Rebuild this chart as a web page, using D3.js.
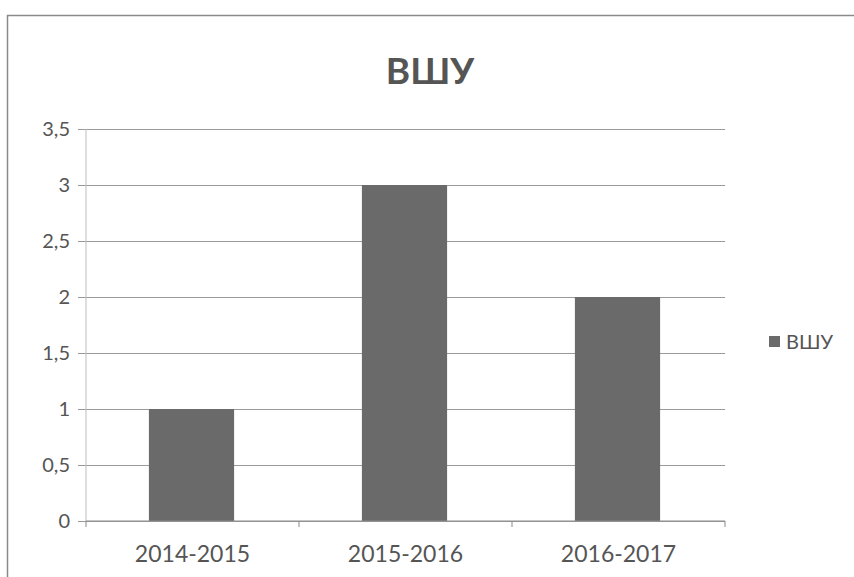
<!DOCTYPE html>
<html>
<head>
<meta charset="utf-8">
<script src="https://cdn.jsdelivr.net/npm/d3@7"></script>
<style>
  body { margin: 0; background: #fff; }
  text { font-family: Lato, "Open Sans", sans-serif; fill: #555; }
</style>
</head>
<body>
<div id="chart"></div>
<script>
// Bar chart "ВШУ"

const categories = ["2014-2015", "2015-2016", "2016-2017"],
    values = [1, 3, 2],
    yTicks = [0, 0.5, 1, 1.5, 2, 2.5, 3, 3.5],
    seriesName = "ВШУ";

const width = 854,
    height = 577,
    margin = ({ top: 129, right: 129, bottom: 56, left: 86 });

const svg = d3.select("#chart")
  .append("svg")
  .attr("width", width)
  .attr("height", height);

// outer chart border
svg.append("rect")
  .attr("x", 7.5).attr("y", 15.5)
  .attr("width", width + 10).attr("height", height)
  .attr("fill", "none")
  .attr("stroke", "#8a8a8a")
  .attr("stroke-width", 1.5);

const x = d3.scaleBand()
  .domain(categories)
  .range([margin.left, width - margin.right])
  .paddingInner(0.6)
  .paddingOuter(0.3);

const y = d3.scaleLinear()
  .domain([0, 3.5])
  .range([height - margin.bottom, margin.top]);

const fmt = d => String(d).replace(".", ",");

// gridlines + y labels
const yAxis = svg.append("g")
  .attr("transform", `translate(${margin.left},0)`)
  .call(d3.axisLeft(y)
    .tickValues(yTicks)
    .tickSize(-(width - margin.left - margin.right))
    .tickFormat(fmt));
yAxis.select(".domain").remove();
yAxis.selectAll(".tick line")
  .attr("stroke", "#9a9a9a")
  .attr("x1", -8);
yAxis.selectAll(".tick text")
  .attr("x", -16)
  .attr("font-size", 20)
  .attr("font-family", "Lato, sans-serif")
  .attr("fill", "#555");

// vertical axis line
svg.append("line")
  .attr("x1", margin.left).attr("x2", margin.left)
  .attr("y1", y(3.5)).attr("y2", y(0))
  .attr("stroke", "#bdbdbd");

// bars
svg.append("g")
  .selectAll("rect")
  .data(values)
  .join("rect")
  .attr("x", (d, i) => x(categories[i]) - 1)
  .attr("y", d => y(d))
  .attr("width", x.bandwidth())
  .attr("height", d => y(0) - y(d))
  .attr("fill", "#6a6a6a");

// x axis with ticks at band edges
const edges = d3.range(categories.length + 1).map(i => margin.left + i * (width - margin.left - margin.right) / categories.length);
svg.append("line")
  .attr("x1", margin.left).attr("x2", width - margin.right)
  .attr("y1", y(0)).attr("y2", y(0))
  .attr("stroke", "#8a8a8a");
svg.append("g")
  .selectAll("line")
  .data(edges)
  .join("line")
  .attr("x1", d => d).attr("x2", d => d)
  .attr("y1", y(0)).attr("y2", y(0) + 6)
  .attr("stroke", "#8a8a8a");

svg.append("g")
  .selectAll("text")
  .data(categories)
  .join("text")
  .attr("x", d => x(d) + x.bandwidth() / 2)
  .attr("y", y(0) + 41)
  .attr("text-anchor", "middle")
  .attr("font-size", 23)
  .text(d => d);

// title
svg.append("text")
  .attr("x", 430)
  .attr("y", 84)
  .attr("text-anchor", "middle")
  .attr("font-size", 37)
  .attr("font-weight", "bold")
  .text(seriesName);

// legend
svg.append("rect")
  .attr("x", 769).attr("y", 336)
  .attr("width", 11).attr("height", 11)
  .attr("fill", "#6a6a6a");
svg.append("text")
  .attr("x", 786).attr("y", 349)
  .attr("font-size", 20)
  .text(seriesName);
</script>
</body>
</html>
